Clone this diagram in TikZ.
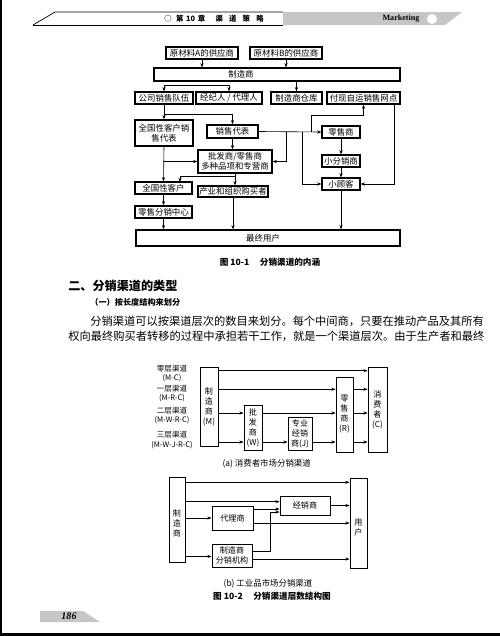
\documentclass[tikz,border=0pt]{standalone}
\usepackage{fontspec}
\setmainfont{Noto Sans CJK SC}
\newfontfamily\latfont{Liberation Serif}
\usetikzlibrary{arrows.meta,fit}

\tikzset{
  bx/.style={draw, line width=0.7pt, inner sep=0pt},
  tbx/.style={draw, line width=0.5pt, inner sep=0pt},
  arr/.style={-{Stealth[length=2.4pt,width=1.8pt]}, line width=0.35pt},
  ln/.style={line width=0.35pt},
  txt/.style={inner sep=0pt, align=center},
  in/.style={label={[txt]center:#1}},
  fone/.style={font=\fontsize{4.8pt}{5.8pt}\selectfont},
  ftwo/.style={font=\fontsize{4.6pt}{5.7pt}\selectfont},
  flab/.style={font=\fontsize{4.3pt}{5.4pt}\selectfont},
  fcap/.style={font=\fontsize{4.9pt}{5.8pt}\selectfont\bfseries},
  fbody/.style={font=\fontsize{6.4pt}{7.5pt}\selectfont},
}

\begin{document}
\begin{tikzpicture}[x=0.02cm, y=-0.02cm]
  \useasboundingbox (0,0) rectangle (500,636);
  % page frame and running head
  \fill (0,0) rectangle (2,636);
  \fill (0,633) rectangle (500,636);
  \fill[gray!45] (283,12) -- (462,12) -- (445,25) -- (283,25) -- cycle;
  \draw[line width=0.4pt] (33,25) -- (55,12) -- (283,12);
  \draw[line width=0.4pt] (33,25) -- (283,25);
  \node[txt, font=\fontsize{4.2pt}{5pt}\selectfont\bfseries] (head) at (214,19)
    {○\hspace{2.5pt}第\hspace{1.5pt}10\hspace{1.5pt}章\hspace{6pt}渠\hspace{3.5pt}道\hspace{3.5pt}策\hspace{3.5pt}略};
  \node[txt, font=\fontsize{4.6pt}{5pt}\latfont\bfseries] (mkt) at (401,19) {Marketing};
  \fill[white] (432,19) circle (0.1cm);

  % figure 10-1
  \begin{scope}[fone]
    \node[bx, fit={(166,47) (238,59)}, in={原材料A的供应商}] (supA) {};
    \node[bx, fit={(250,47) (322,59)}, in={原材料B的供应商}] (supB) {};
    \node[bx, fit={(154,68) (400,81)}] (mfr) {};
    \node[txt] (mfrlbl) at (241,74.5) {制造商};
    \node[bx, fit={(135,92) (193,104)}, in={公司销售队伍}] (sales) {};
    \node[bx, fit={(196,92) (262,104)}, in={经纪人 / 代理人}] (broker) {};
    \node[bx, fit={(271,92) (322,104)}, in={制造商仓库}] (whse) {};
    \node[bx, fit={(327,92) (400,104)}, in={付现自运销售网点}] (cash) {};
    \node[bx, fit={(135,120) (193,146)}, in={全国性客户销\\售代表}] (natrep) {};
    \node[bx, fit={(207,125) (258,138)}, in={销售代表}] (rep) {};
    \node[bx, fit={(322,126) (360,138)}, in={零售商}] (retl) {};
    \node[bx, fit={(198,150) (272,173)}, in={批发商/零售商\\多种品项和专营商}] (whsl) {};
    \node[bx, fit={(322,155) (360,167)}, in={小分销商}] (smalld) {};
    \node[bx, fit={(322,178) (360,190)}, in={小顾客}] (cust) {};
    \node[bx, fit={(135,182) (192,194)}, in={全国性客户}] (natacct) {};
    \node[bx, fit={(198,186) (268,197)}, in={产业和组织购买者}] (indus) {};
    \node[bx, fit={(135,206) (192,218)}, in={零售分销中心}] (rdc) {};
    \node[bx, fit={(136,230) (400,246)}] (endu) {};
    \node[txt] (endulbl) at (263,238) {最终用户};
  \end{scope}

  \draw[arr] (supA.south) -- (supA.south |- mfr.north);
  \draw[arr] (supB.south) -- (supB.south |- mfr.north);
  \draw[ln] (sales.north |- 0,85) -- (broker.north |- 0,85);
  \draw[arr] (sales.north |- 0,85) -- (sales.north);
  \draw[arr] (broker.north |- 0,85) -- (broker.north);
  \draw[arr] (whse.north |- mfr.south) -- (whse.north);
  \draw[arr] (sales.south) -- (natrep.north);
  \draw[arr] (sales.south |- 0,114) -| (rep.north);
  \draw[arr] (rep.east) -- (retl.west);
  \draw[arr] (311,131.5) -- (311,115) -| (cash.south);
  \draw[arr] (286,131.5) |- (whsl.east);
  \draw[arr] (302,131.5) |- (cust.west);
  \draw[arr] (retl.south) -- (smalld.north);
  \draw[arr] (smalld.south) -- (cust.north);
  \draw[arr] (cash.south -| 394,0) |- (cust.east);
  \draw[arr] (cust.south) -- (cust.south |- endu.north);
  \draw[arr] (rep.south) -- (rep.south |- whsl.north);
  \draw[arr] (natrep.south) -- (natacct.north);
  \draw[arr] (natrep.south |- whsl.west) -- (whsl.west);
  \draw[arr] (whsl.south) -- (whsl.south |- indus.north);
  \draw[arr] (whsl.south |- 0,176) -| (180,182);
  \draw[arr] (natacct.south) -- (rdc.north);
  \draw[arr] (rdc.south) -- (rdc.south |- endu.north);
  \draw[arr] (indus.south) -- (indus.south |- endu.north);

  \node[txt, fcap] (cap1) at (270,262) {图 10-1\hspace{6pt}分销渠道的内涵};

  % section text
  \node[txt, anchor=west, font=\fontsize{6.9pt}{8pt}\selectfont\bfseries] (sec) at (68,286) {二、分销渠道的类型};
  \node[txt, anchor=west, font=\fontsize{4.65pt}{6pt}\selectfont\bfseries] (subsec) at (90,302.7) {（一）按长度结构来划分};
  \node[txt, anchor=west, fbody] (par1) at (90,321.7) {分销渠道可以按渠道层次的数目来划分。每个中间商，只要在推动产品及其所有};
  \node[txt, anchor=west, fbody] (par2) at (68,336) {权向最终购买者转移的过程中承担若干工作，就是一个渠道层次。由于生产者和最终};

  % figure 10-2 (a)
  \begin{scope}[flab]
    \node[txt] (lv0) at (172,373.7) {零层渠道\\(M-C)};
    \node[txt] (lv1) at (172,393.3) {一层渠道\\(M-R-C)};
    \node[txt] (lv2) at (172,415.5) {二层渠道\\(M-W-R-C)};
    \node[txt] (lv3) at (172,440) {三层渠道\\(M-W-J-R-C)};
  \end{scope}
  \begin{scope}[ftwo]
    \node[tbx, fit={(200,367) (218,446)}] (mfrA) {};
    \node[txt] (mfrAl) at (209,406.5) {制\\造\\商\\(M)};
    \node[tbx, fit={(244,405) (262,450)}, in={批\\发\\商\\(W)}] (whA) {};
    \node[tbx, fit={(288,417) (312,450)}, in={专业\\经销\\商(J)}] (jbA) {};
    \node[tbx, fit={(336,377) (353,452)}, in={零\\售\\商\\(R)}] (rtA) {};
    \node[tbx, fit={(368,367) (387,452)}, in={消\\费\\者\\(C)}] (csA) {};
  \end{scope}
  \draw[arr] (mfrA.east |- 0,370.7) -- (csA.west |- 0,370.7);
  \draw[arr] (mfrA.east |- 0,389.3) -- (rtA.west |- 0,389.3);
  \draw[arr] (mfrA.east |- 0,413) -- (whA.west |- 0,413);
  \draw[arr] (whA.east |- 0,413) -- (rtA.west |- 0,413);
  \draw[arr] (mfrA.east |- 0,442) -- (whA.west |- 0,442);
  \draw[arr] (whA.east |- 0,442) -- (jbA.west |- 0,442);
  \draw[arr] (jbA.east |- 0,442) -- (rtA.west |- 0,442);
  \draw[arr] (rtA.east |- 0,389.3) -- (csA.west |- 0,389.3);
  \draw[arr] (rtA.east |- 0,413) -- (csA.west |- 0,413);
  \draw[arr] (rtA.east |- 0,442) -- (csA.west |- 0,442);
  \node[txt, fone] (capa) at (266.7,463.3) {(a) 消费者市场分销渠道};

  % figure 10-2 (b)
  \begin{scope}[ftwo]
    \node[tbx, fit={(169,477) (185,562)}] (mfrB) {};
    \node[txt] (mfrBl) at (177,523.3) {制\\造\\商};
    \node[tbx, fit={(350,478) (367,568)}] (userB) {};
    \node[txt] (userBl) at (358.5,527.5) {用\\户};
    \node[tbx, fit={(280,496) (330,515)}, in={经销商}] (distB) {};
    \node[tbx, fit={(212,506) (253,530)}, in={代理商}] (agtB) {};
    \node[tbx, fit={(212,544) (252,567)}, in={制造商\\分销机构}] (brB) {};
  \end{scope}
  \draw[arr] (mfrB.east |- 0,482.3) -- (userB.west |- 0,482.3);
  \draw[arr] (mfrB.east |- 0,501.7) -- (distB.west |- 0,501.7);
  \draw[arr] (mfrB.east |- agtB.west) -- (agtB.west);
  \draw[arr] (mfrB.east |- 0,556.5) -- (brB.west |- 0,556.5);
  \draw[arr] (distB.east) -- (userB.west |- distB.east);
  \draw[arr] (agtB.east |- 0,523) -- (userB.west |- 0,523);
  \draw[arr] (agtB.east |- 0,509) -- (distB.west |- 0,509);
  \draw[arr] (brB.east |- 0,551.7) -| (270,512) -- (distB.west |- 0,512);
  \draw[arr] (brB.east |- 0,559) -- (userB.west |- 0,559);
  \node[txt, fone] (capb) at (268,583.3) {(b) 工业品市场分销渠道};
  \node[txt, fcap] (cap2) at (272,596.7) {图 10-2\hspace{6pt}分销渠道层数结构图};

  % folio
  \fill[gray!45] (40,611) -- (83,611) -- (100,622) -- (40,622) -- cycle;
  \node[txt, font=\fontsize{5.7pt}{6pt}\latfont\bfseries\itshape] (folio) at (69,616.5) {186};
\end{tikzpicture}
\end{document}
